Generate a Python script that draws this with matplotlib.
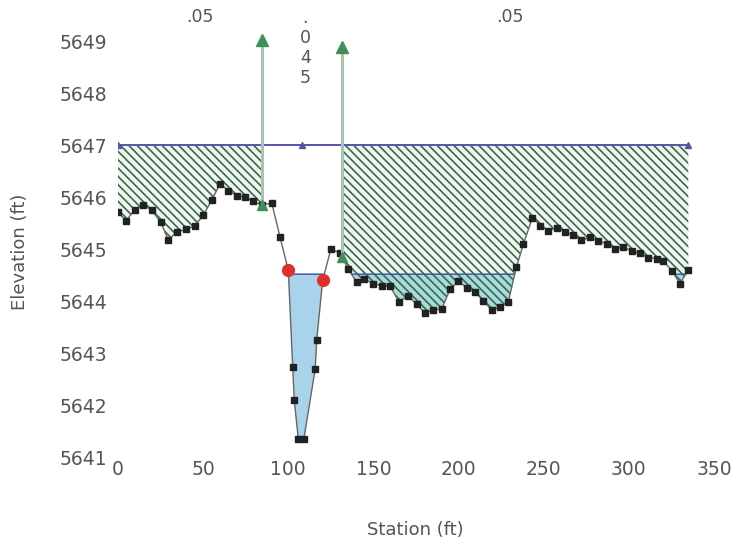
import numpy as np
import matplotlib
matplotlib.use("Agg")
import matplotlib.pyplot as plt

# ---------------- data ----------------
station = [0, 4.7, 10.0, 14.9, 19.8, 25.1, 29.5, 34.5, 39.9, 45.2,
           50.1, 55.0, 59.9, 64.8, 69.7, 74.6, 79.4, 84.6, 90.3, 95.1,
           100.0, 102.6, 103.5, 105.9, 109.1, 115.8, 116.7, 120.2, 125.1, 130.4,
           135.2, 140.2, 144.5, 149.9, 154.8, 159.7, 165.0, 170.3, 175.4, 180.0,
           185.1, 190.1, 195.0, 199.8, 204.8, 209.6, 214.5, 219.4, 224.3, 229.2,
           233.9, 238.1, 243.4, 248.1, 252.7, 257.8, 262.7, 267.2, 272.1, 277.2,
           282.0, 287.0, 291.8, 296.7, 301.6, 306.5, 311.3, 316.3, 320.2, 325.1,
           330.0, 334.9]
elevation = [5645.71, 5645.55, 5645.76, 5645.86, 5645.75, 5645.52, 5645.18, 5645.33, 5645.38, 5645.45,
             5645.66, 5645.94, 5646.26, 5646.13, 5646.03, 5646.00, 5645.92, 5645.85, 5645.89, 5645.24,
             5644.60, 5642.73, 5642.10, 5641.34, 5641.34, 5642.69, 5643.25, 5644.41, 5645.01, 5644.92,
             5644.62, 5644.36, 5644.43, 5644.34, 5644.29, 5644.29, 5643.99, 5644.10, 5643.94, 5643.78,
             5643.83, 5643.85, 5644.23, 5644.38, 5644.26, 5644.17, 5644.01, 5643.83, 5643.89, 5643.99,
             5644.65, 5645.10, 5645.61, 5645.45, 5645.36, 5645.41, 5645.33, 5645.28, 5645.17, 5645.23,
             5645.16, 5645.11, 5645.01, 5645.04, 5644.97, 5644.92, 5644.84, 5644.82, 5644.78, 5644.59,
             5644.34, 5644.60]

water_surface = 5644.52          # water surface elevation
upper_level = 5647.0             # top of ineffective flow areas
upper_marker_sta = [0, 108.0, 334.9]
bank_points_sta = [100.0, 120.2]          # red circles
bank_points_elev = [5644.60, 5644.41]
bank_sta = [84.6, 131.5]                  # bank stations (green arrows)
bank_arrow_top = [5649.03, 5648.90]
n_labels = [".05", ".045", ".05"]
n_label_sta = [48.0, 110.0, 230.0]

xticks = [0, 50, 100, 150, 200, 250, 300, 350]
yticks = [5641, 5642, 5643, 5644, 5645, 5646, 5647, 5648, 5649]

# ---------------- figure ----------------
plt.rcParams['font.family'] = ['DejaVu Sans']
plt.rcParams['hatch.linewidth'] = 1.2
plt.rcParams['hatch.color'] = '#3f6450'

W, H = 738, 544
fig = plt.figure(figsize=(W / 100, H / 100), dpi=100)
ax = fig.add_axes([118 / W, 1 - 457 / H, (714 - 118) / W, (457 - 15.5) / H])
ax.set_xlim(0, 350)
ax.set_ylim(5641, 5649.5)

sta = np.array(station)
elev = np.array(elevation)
ground = lambda x: np.interp(x, sta, elev)

HATCH = '\\' * 4

# left ineffective area (hatched)
xl = sta[sta <= bank_sta[0]]
gl = ground(xl)
ax.fill_between(xl, gl, upper_level, facecolor='#eef7ee', edgecolor='none', lw=0, zorder=1)

# right ineffective area
xr = np.concatenate([[bank_sta[1]], sta[sta > bank_sta[1]]])
gr = ground(xr)
ax.fill_between(xr, gr, upper_level, facecolor='#eef7ee', edgecolor='none', lw=0, zorder=1)

# water in right overbank
ax.fill_between(xr, gr, water_surface, where=gr < water_surface, interpolate=True,
                facecolor='#a5dcdc', edgecolor='none', lw=0, zorder=2)

# water in channel
xc = np.concatenate([[bank_sta[0]], sta[(sta > bank_sta[0]) & (sta < bank_sta[1])], [bank_sta[1]]])
gc = ground(xc)
ax.fill_between(xc, gc, water_surface, where=gc < water_surface, interpolate=True,
                facecolor='#a9d3ea', edgecolor='none', lw=0, zorder=2)

# hatch on top
ax.fill_between(xl, gl, upper_level, facecolor='none', edgecolor='#3f6450', hatch=HATCH, lw=0, zorder=3)
ax.fill_between(xr, gr, upper_level, facecolor='none', edgecolor='#3f6450', hatch=HATCH, lw=0, zorder=3)

# water surface line
xs = np.linspace(0, sta[-1], 4000)
gs = ground(xs)
ws = np.where(gs < water_surface, water_surface, np.nan)
ax.plot(xs, ws, color='#3b5d9c', lw=1.1, zorder=4)

# upper level line
ax.plot([sta[0], sta[-1]], [upper_level, upper_level], color='#5656a8', lw=1.4, zorder=4)
ax.plot(upper_marker_sta, [upper_level] * len(upper_marker_sta), ls='none', marker='^',
        ms=4, color='#5656a8', zorder=5)

# ground line and points
ax.plot(sta, elev, color='#666666', lw=1.0, zorder=5)
ax.plot(sta, elev, ls='none', marker='s', ms=4.3, color='#222222', zorder=6)

# bank points (red)
ax.plot(bank_points_sta, bank_points_elev, ls='none', marker='o', ms=8.5,
        color='#e0302a', zorder=7)

# bank station arrows
for s, top in zip(bank_sta, bank_arrow_top):
    g = ground(s)
    ax.plot([s, s], [g, top], color='#a8c2b4', lw=2.2, zorder=6, solid_capstyle='butt')
    ax.plot([s], [top], marker='^', ms=9, color='#3e8f58', ls='none', zorder=8, clip_on=False)
    ax.plot([s], [g], marker='^', ms=7, color='#3e8f58', ls='none', zorder=8)

# Manning's n labels
for lab, s in zip(n_labels, n_label_sta):
    if len(lab) > 3:
        ax.text(s, 5649.63, "\n".join(lab), ha='center', va='top', fontsize=12.5,
                color='#555555', linespacing=1.15, clip_on=False)
    else:
        ax.text(s, 5649.47, lab, ha='center', va='center', fontsize=12.5,
                color='#555555', clip_on=False)

# axes styling
for sp in ax.spines.values():
    sp.set_visible(False)
ax.set_xticks(xticks)
ax.set_yticks(yticks)
ax.tick_params(axis='both', length=0, labelsize=13.5, labelcolor='#555555')
ax.tick_params(axis='y', pad=8)
ax.tick_params(axis='x', pad=2)
ax.set_xlabel("Station (ft)", fontsize=13, color='#555555')
ax.set_ylabel("Elevation (ft)", fontsize=13, color='#555555')
ax.xaxis.set_label_coords((415 - 118) / 596, (457 - 530) / 441.5)
ax.xaxis.label.set_va('center')
ax.yaxis.set_label_coords((20 - 118) / 596, (457 - 252) / 441.5)
ax.yaxis.label.set_va('center')

fig.savefig("out.png", dpi=100)
